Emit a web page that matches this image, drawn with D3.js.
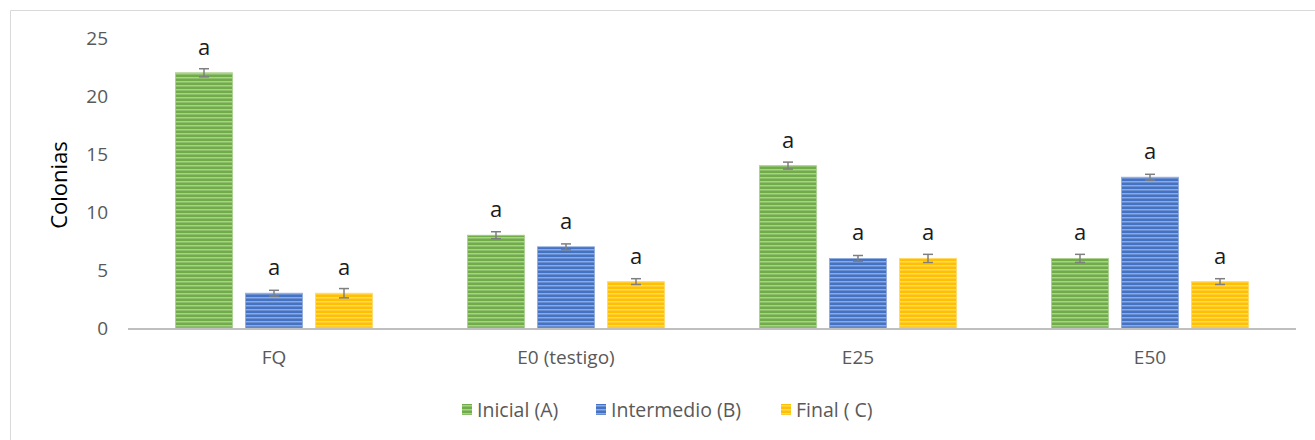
<!DOCTYPE html>
<html>
<head>
<meta charset="utf-8">
<script src="https://cdn.jsdelivr.net/npm/d3@7"></script>
<style>
  html, body { margin: 0; padding: 0; background: #fff; }
  svg { display: block; font-family: "Open Sans", "Noto Sans", sans-serif; }
</style>
</head>
<body>
<svg id="chart" width="1315" height="440"></svg>
<script>
// Treatments on the x axis
const categories = ["FQ", "E0 (testigo)", "E25", "E50"];
// Sampling stages (series)
const seriesNames = ["Inicial (A)", "Intermedio (B)", "Final ( C)"];
// Mean colony counts per treatment, one array per stage
const inicial    = [22, 8, 14, 6];
const intermedio = [3, 7, 6, 13];
const final      = [3, 4, 6, 4];
// Error bar half-widths
const errInicial    = [0.35, 0.3, 0.3, 0.35];
const errIntermedio = [0.25, 0.25, 0.25, 0.25];
const errFinal      = [0.4, 0.25, 0.35, 0.25];
// Significance letters
const letters = ["a", "a", "a", "a"];
const yTicks = [0, 5, 10, 15, 20, 25];

const colors = ["#70AD47", "#4472C4", "#FFC000"];
const lightColors = ["#A9D08E", "#8EA9DB", "#FFD966"];

const svg = d3.select("#chart");

// Outer chart frame
svg.append("path")
  .attr("d", "M10.5,440 V10.5 H1315")
  .attr("fill", "none")
  .attr("stroke", "#d9d9d9")
  .attr("stroke-width", 1);

// Striped fills for each series
const defs = svg.append("defs");
colors.forEach((c, i) => {
  const p = defs.append("pattern")
    .attr("id", "stripe" + i)
    .attr("patternUnits", "userSpaceOnUse")
    .attr("width", 8).attr("height", 4);
  p.append("rect").attr("width", 8).attr("height", 4).attr("fill", c);
  p.append("rect").attr("y", 1).attr("width", 8).attr("height", 1.5).attr("fill", lightColors[i]);
});

const x0 = d3.scaleBand().domain(categories).range([128, 1296]).paddingInner(0).paddingOuter(0);
// bars inside each group use a fixed step and width
const barStep = 70, barW = 57;
const y = d3.scaleLinear().domain([0, 25]).range([328, 38]);

const values = [inicial, intermedio, final];
const errs = [errInicial, errIntermedio, errFinal];

// Y tick labels
svg.append("g").selectAll("text")
  .data(yTicks).join("text")
  .attr("x", 108)
  .attr("y", d => y(d))
  .attr("dy", "0.36em")
  .attr("text-anchor", "end")
  .attr("font-size", 19)
  .attr("fill", "#595959")
  .text(d => d);

// Y axis title
svg.append("text")
  .attr("transform", `translate(67,${y(12.5) + 2}) rotate(-90)`)
  .attr("text-anchor", "middle")
  .attr("font-size", 22)
  .attr("fill", "#000")
  .text("Colonias");

// Bars, error bars and letters
values.forEach((vals, s) => {
  const g = svg.append("g");
  const cx = (i) => x0(categories[i]) + x0.bandwidth() / 2 + (s - 1) * barStep;
  g.selectAll("rect")
    .data(vals).join("rect")
    .attr("x", (d, i) => cx(i) - barW / 2)
    .attr("y", d => y(d))
    .attr("width", barW)
    .attr("height", d => y(0) - y(d))
    .attr("fill", `url(#stripe${s})`)
    .attr("stroke", lightColors[s])
    .attr("stroke-width", 0.8);

  vals.forEach((d, i) => {
    const e = errs[s][i];
    const c = cx(i);
    const eg = g.append("g").attr("stroke", "#7f7f7f").attr("stroke-width", 1.5);
    eg.append("line").attr("x1", c).attr("x2", c).attr("y1", y(d + e)).attr("y2", y(d - e));
    eg.append("line").attr("x1", c - 5).attr("x2", c + 5).attr("y1", y(d + e)).attr("y2", y(d + e));
    eg.append("line").attr("x1", c - 5).attr("x2", c + 5).attr("y1", y(d - e)).attr("y2", y(d - e));
    g.append("text")
      .attr("x", c)
      .attr("y", y(d) - 18)
      .attr("text-anchor", "middle")
      .attr("font-size", 22)
      .attr("fill", "#1a1a1a")
      .text(letters[i]);
  });
});

// Category axis baseline
svg.append("line")
  .attr("x1", 128).attr("x2", 1296)
  .attr("y1", y(0) + 1).attr("y2", y(0) + 1)
  .attr("stroke", "#bfbfbf").attr("stroke-width", 2);

// Category labels
svg.append("g").selectAll("text")
  .data(categories).join("text")
  .attr("x", d => x0(d) + x0.bandwidth() / 2)
  .attr("y", 364)
  .attr("text-anchor", "middle")
  .attr("font-size", 19)
  .attr("fill", "#595959")
  .text(d => d);

// Legend
const legendX = [462, 596, 781];
const lg = svg.append("g");
seriesNames.forEach((n, i) => {
  lg.append("rect")
    .attr("x", legendX[i]).attr("y", 404)
    .attr("width", 10).attr("height", 11)
    .attr("fill", `url(#stripe${i})`);
  lg.append("text")
    .attr("x", legendX[i] + 15).attr("y", 417)
    .attr("font-size", 19.5)
    .attr("fill", "#595959")
    .text(n);
});
</script>
</body>
</html>
